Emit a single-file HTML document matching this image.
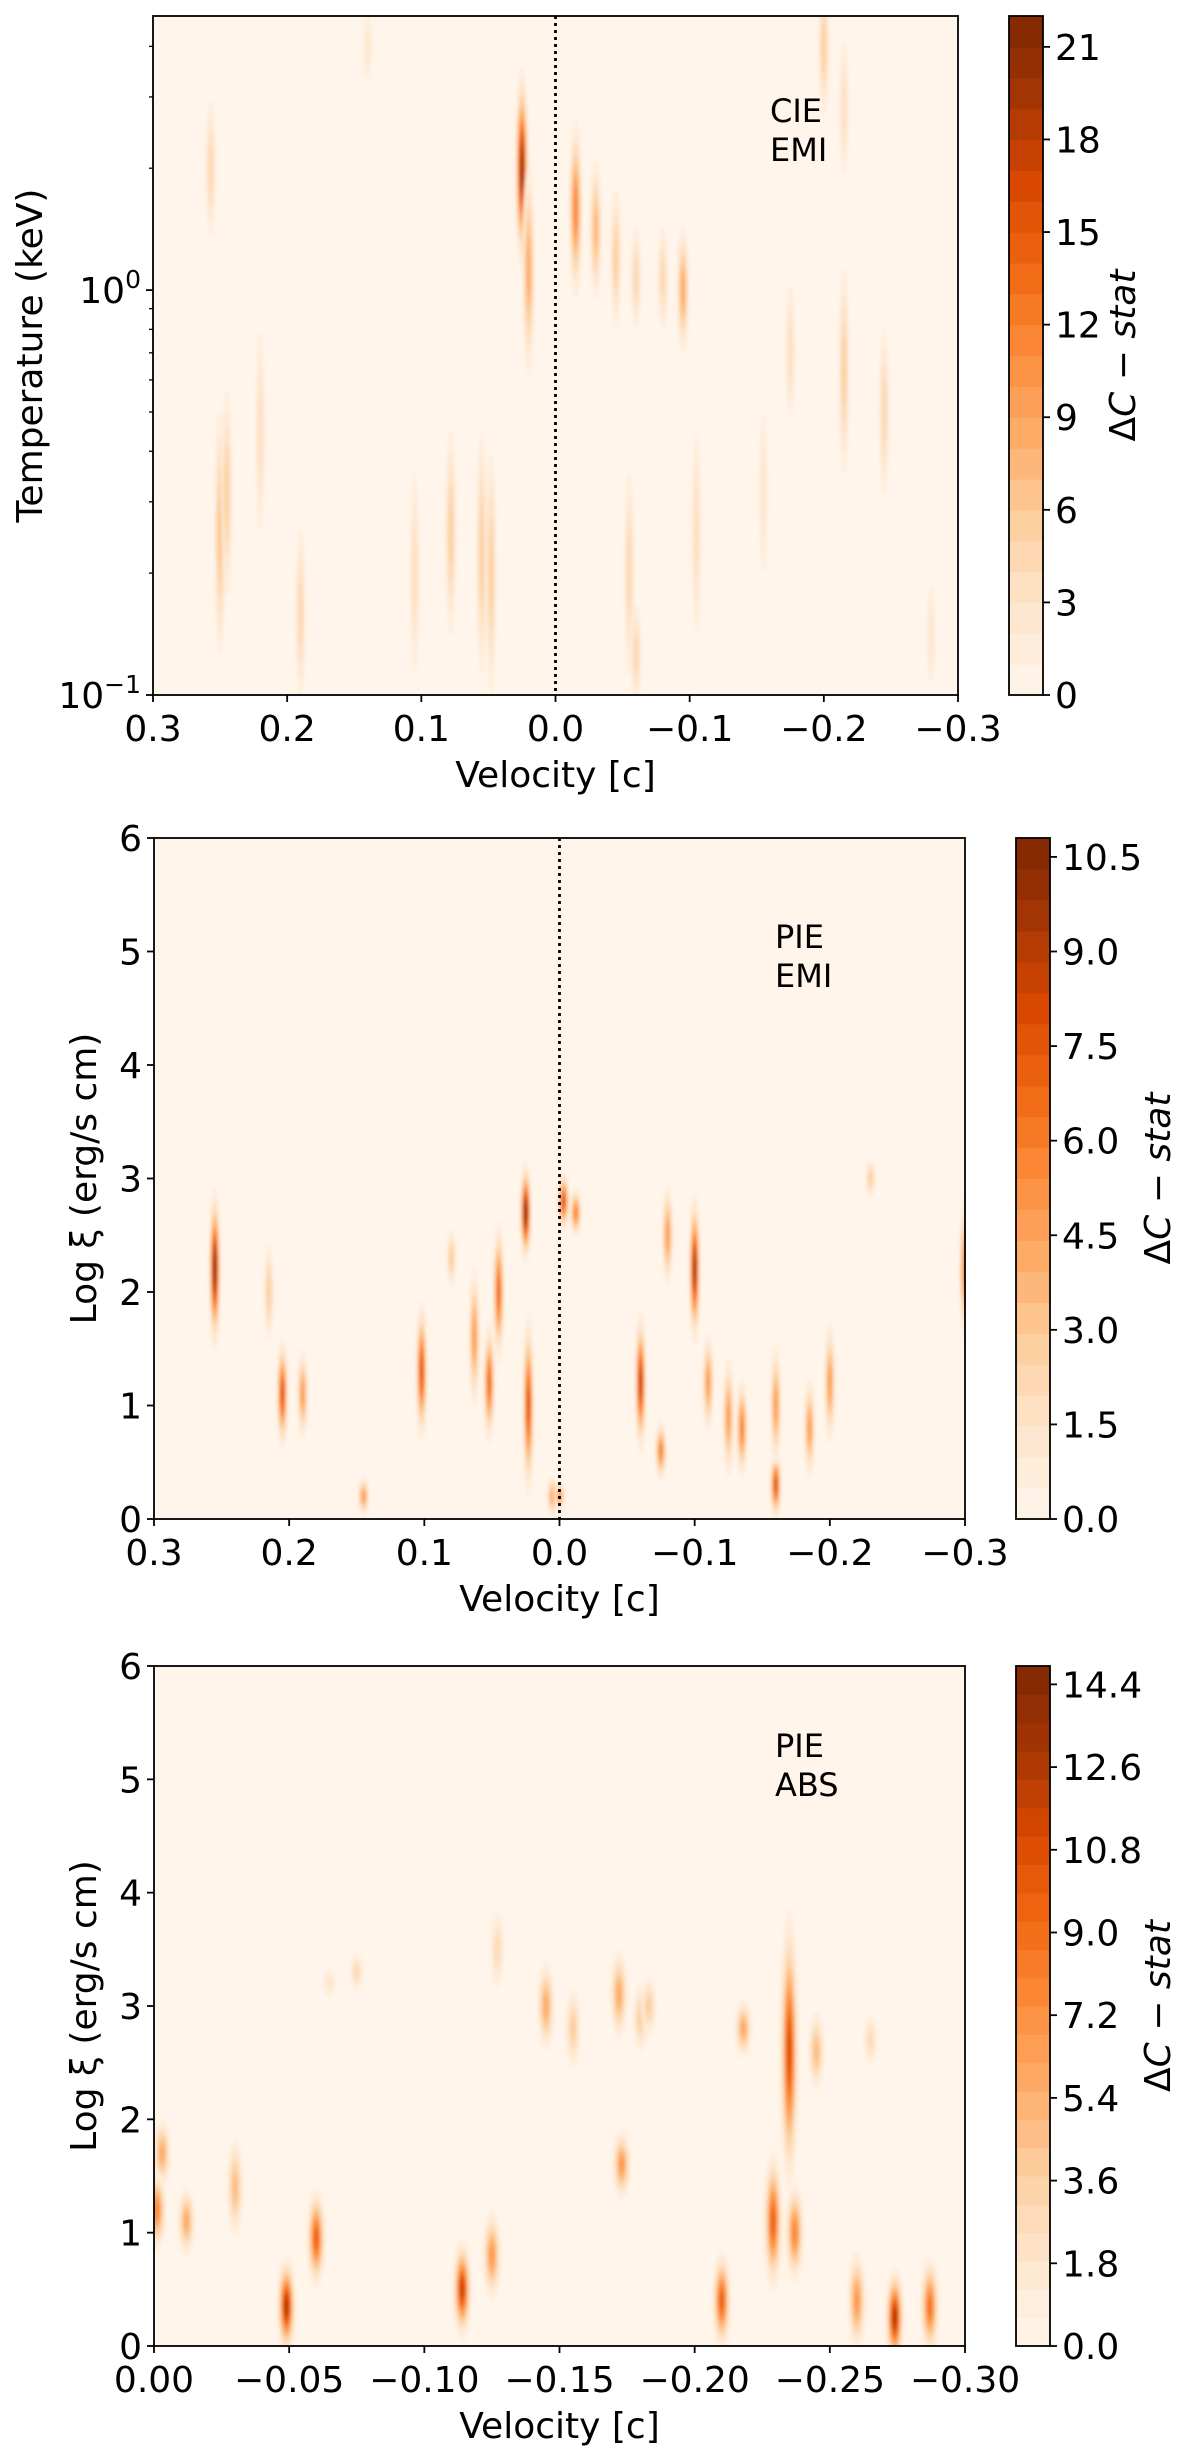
<!DOCTYPE html>
<html><head><meta charset="utf-8"><style>
html,body{margin:0;padding:0;background:#fff;}
svg{display:block;font-family:"DejaVu Sans","Liberation Sans",sans-serif;}
</style></head><body>
<svg id="fig" width="1200" height="2451" viewBox="0 0 1200 2451" xmlns="http://www.w3.org/2000/svg">
<defs><filter id="soft" x="-50%" y="-10%" width="200%" height="120%"><feGaussianBlur stdDeviation="1.6"/></filter></defs>
</svg>
<script>
// ---------- Panel 1 (CIE EMI): velocity, log10 T, half-height (dex), peak ΔC ----------
const p1V = [0.025,0.02,-0.015,-0.03,-0.045,-0.06,-0.08,-0.095,0.257,-0.2,-0.215,0.25,0.245,0.22,0.19,0.105,0.078,0.055,0.048,-0.055,-0.06,-0.105,-0.155,-0.175,-0.215,-0.245,-0.28,0.14];
const p1Y = [0.3,0.05,0.2,0.15,0.08,0.03,0.03,0.0,0.3,0.6,0.45,-0.6,-0.5,-0.35,-0.8,-0.7,-0.6,-0.65,-0.7,-0.7,-0.9,-0.6,-0.5,-0.15,-0.2,-0.3,-0.85,0.6];
const p1H = [0.28,0.3,0.25,0.2,0.2,0.15,0.15,0.18,0.2,0.2,0.2,0.35,0.3,0.3,0.25,0.3,0.3,0.35,0.35,0.3,0.15,0.3,0.25,0.2,0.3,0.25,0.15,0.1];
const p1I = [21,9,12,8,6,5,5,9,5,6,4,7,6,4,5,4,6,6,6,5,5,4,3,4,6,5,3,3];
// ---------- Panel 2 (PIE EMI) ----------
const p2V = [0.255,0.205,0.19,0.215,0.145,0.102,0.08,0.063,0.052,0.045,0.025,0.023,0.005,-0.003,-0.012,-0.06,-0.075,-0.08,-0.1,-0.11,-0.125,-0.135,-0.16,-0.16,-0.185,-0.2,-0.23,-0.3,0.0];
const p2Y = [2.2,1.1,1.1,2.0,0.2,1.3,2.3,1.6,1.2,2.0,2.7,1.0,0.2,2.8,2.7,1.2,0.6,2.5,2.2,1.2,0.9,0.8,0.3,1.0,0.8,1.2,3.0,2.2,0.2];
const p2H = [0.8,0.55,0.45,0.5,0.2,0.7,0.3,0.7,0.6,0.7,0.5,0.9,0.2,0.3,0.25,0.7,0.3,0.5,0.75,0.5,0.6,0.5,0.35,0.6,0.5,0.6,0.2,0.7,0.15];
const p2I = [11,8,5,3,5,8,3,5,7,7,11,8,5,8,6,9,6,5,10,5,5,6,8,5,5,5,3,6,5];
// ---------- Panel 3 (PIE ABS) ----------
const p3V = [-0.003,-0.001,-0.012,-0.03,-0.049,-0.06,-0.114,-0.125,-0.127,-0.145,-0.155,-0.172,-0.18,-0.173,-0.075,-0.065,-0.21,-0.218,-0.229,-0.235,-0.237,-0.245,-0.26,-0.265,-0.274,-0.287,-0.183];
const p3Y = [1.7,1.2,1.1,1.4,0.35,0.95,0.5,0.8,3.5,3.0,2.8,3.1,2.9,1.6,3.3,3.2,0.4,2.8,1.1,2.6,1.0,2.6,0.4,2.7,0.25,0.35,3.0];
const p3H = [0.35,0.4,0.35,0.5,0.5,0.5,0.5,0.45,0.4,0.45,0.4,0.45,0.35,0.35,0.2,0.15,0.5,0.3,0.7,1.4,0.5,0.4,0.5,0.25,0.5,0.5,0.3];
const p3I = [6,8,6,5,13,10,12,7,3,6,4,6,4,7,3,2,10,6,10,11,8,5,7,3,13,9,4];
// colorbar ticks
const cb1Ticks = [0,3,6,9,12,15,18,21];
const cb2Ticks = [0,1.5,3,4.5,6,7.5,9,10.5];
const cb3Ticks = [0,1.8,3.6,5.4,7.2,9.0,10.8,12.6,14.4];
const xTicksA = [0.3,0.2,0.1,0.0,-0.1,-0.2,-0.3];
const xTicksA_lab = ["0.3","0.2","0.1","0.0","\u22120.1","\u22120.2","\u22120.3"];
const xTicksB = [0,-0.05,-0.1,-0.15,-0.2,-0.25,-0.3];
const xTicksB_lab = ["0.00","\u22120.05","\u22120.10","\u22120.15","\u22120.20","\u22120.25","\u22120.30"];
const yTicksLin = [0,1,2,3,4,5,6];

const NS="http://www.w3.org/2000/svg";
const fig=document.getElementById('fig');
const FS=36;
function mk(tag,attrs,parent){const e=document.createElementNS(NS,tag);for(const k in attrs)e.setAttribute(k,attrs[k]);(parent||fig).appendChild(e);return e;}
const stops=[[0,[255,245,235]],[.125,[254,230,206]],[.25,[253,208,162]],[.375,[253,174,107]],[.5,[253,141,60]],[.625,[241,105,19]],[.75,[217,72,1]],[.875,[166,54,3]],[1,[127,39,4]]];
function cmap(t){t=Math.max(0,Math.min(1,t));for(let i=1;i<stops.length;i++){if(t<=stops[i][0]){const a=stops[i-1],b=stops[i];const f=(t-a[0])/(b[0]-a[0]);const c=a[1].map((v,j)=>Math.round(v+(b[1][j]-v)*f));return `rgb(${c[0]},${c[1]},${c[2]})`;}}return 'rgb(127,39,4)';}

function panel(o){
  const g=mk('g',{});
  
  
  const xs=v=>o.x0+(o.vmax-v)/(o.vmax-o.vmin)*(o.x1-o.x0);
  const ys=y=>o.y1-(y-o.ymin)/(o.ymax-o.ymin)*(o.y1-o.y0);
  const nb=o.nBands, step=o.cmax/nb;
  const clip=mk('clipPath',{id:o.name+'-clip'},g);
  mk('rect',{x:o.x0,y:o.y0,width:o.x1-o.x0,height:o.y1-o.y0},clip);
  const bg=mk('rect',{x:o.x0,y:o.y0,width:o.x1-o.x0,height:o.y1-o.y0,fill:cmap(0)},g);
  
  
  const outer=mk('g',{'clip-path':`url(#${o.name}-clip)`},g);
  const hm=mk('g',{filter:'url(#soft)'},outer);
  
  
  const hw=o.halfW;
  for(let i=0;i<o.V.length;i++){
    const I=o.I[i], cx=xs(o.V[i]), cy=ys(o.Y[i]);
    const ry=Math.abs(ys(o.Y[i]+o.H[i])-cy), rx=hw*(0.6+0.4*Math.min(1,I/o.cmax*2));
    const bl=mk('g',{},hm);
    
    
    const l0=step*0.5;
    for(let k=1;k*step<I;k++){
      const l=k*step;
      const s=Math.sqrt(Math.log(I/l)/Math.log(I/l0));
      mk('ellipse',{cx:cx,cy:cy,rx:(rx*s).toFixed(2),ry:(ry*s).toFixed(2),fill:cmap((l+step*0.5)/o.cmax)},bl);
    }
  }
  if(o.zeroLine){const zl=mk('line',{x1:xs(0),x2:xs(0),y1:o.y0,y2:o.y1,stroke:'#000','stroke-width':2.8,'stroke-dasharray':'3,4'},g);
    }
  const fr=mk('rect',{x:o.x0,y:o.y0,width:o.x1-o.x0,height:o.y1-o.y0,fill:'none',stroke:'#000','stroke-width':1.8},g);
  
  // x ticks
  const xa=mk('g',{},g);
  o.xt.forEach((v,i)=>{const x=xs(v);mk('line',{x1:x,x2:x,y1:o.y1,y2:o.y1+7,stroke:'#000','stroke-width':1.8},xa);
    const t=mk('text',{x:x,y:o.y1+46,'font-size':FS,'text-anchor':'middle'},xa);t.textContent=o.xl[i];
    });
  const xt=mk('text',{x:(o.x0+o.x1)/2,y:o.y1+92,'font-size':FS,'text-anchor':'middle'},g);xt.textContent='Velocity [c]';
  
  // y ticks
  const ya=mk('g',{},g);
  if(o.log){
    [-1,0].forEach(p=>{const y=ys(p);mk('line',{x1:o.x0-7,x2:o.x0,y1:y,y2:y,stroke:'#000','stroke-width':1.8},ya);
      const t=mk('text',{x:o.x0-12,y:y+13,'font-size':FS,'text-anchor':'end'},ya);
      
      t.innerHTML=`10<tspan dy="-15" font-size="25">${p<0?'\u22121':'0'}</tspan>`;});
    for(let d=-1;d<=0;d++)for(let m=2;m<=9;m++){const lv=d+Math.log10(m);if(lv>o.ymax)continue;const y=ys(lv);
      mk('line',{x1:o.x0-4,x2:o.x0,y1:y,y2:y,stroke:'#000','stroke-width':1.3},ya);}
  } else {
    o.yt.forEach(v=>{const y=ys(v);mk('line',{x1:o.x0-7,x2:o.x0,y1:y,y2:y,stroke:'#000','stroke-width':1.8},ya);
      const t=mk('text',{x:o.x0-12,y:y+13,'font-size':FS,'text-anchor':'end'},ya);t.textContent=v;
      });
  }
  const yt=mk('text',{x:o.ytx,y:(o.y0+o.y1)/2,'font-size':FS,'text-anchor':'middle',transform:`rotate(-90 ${o.ytx} ${(o.y0+o.y1)/2})`},g);
  yt.textContent=o.ytitle;
  // annotation
  const an=mk('text',{x:o.annX,y:o.annY,'font-size':32},g);
  an.innerHTML=`<tspan x="${o.annX}">${o.ann[0]}</tspan><tspan x="${o.annX}" dy="39">${o.ann[1]}</tspan>`;
  // colorbar
  const cb=mk('g',{},g);
  const cys=v=>o.y1-v/o.cmax*(o.y1-o.y0);
  for(let k=0;k<nb;k++){mk('rect',{x:o.cbx,y:cys((k+1)*step),width:o.cbw,height:cys(k*step)-cys((k+1)*step)+0.6,fill:cmap((k+0.5)/nb)},cb);}
  mk('rect',{x:o.cbx,y:o.y0,width:o.cbw,height:o.y1-o.y0,fill:'none',stroke:'#000','stroke-width':1.8},cb);
  o.ct.forEach(v=>{const y=cys(v);mk('line',{x1:o.cbx+o.cbw,x2:o.cbx+o.cbw+7,y1:y,y2:y,stroke:'#000','stroke-width':1.8},cb);
    const t=mk('text',{x:o.cbx+o.cbw+12,y:y+13,'font-size':FS},cb);t.textContent=o.cfmt(v);
    });
  const lx=o.cbx+o.cbw+o.clx, ly=(o.y0+o.y1)/2;
  const cl=mk('text',{x:lx,y:ly,'font-size':FS,'text-anchor':'middle',transform:`rotate(-90 ${lx} ${ly})`},cb);
  cl.innerHTML='\u0394<tspan font-style="italic">C</tspan> \u2212 <tspan font-style="italic">stat</tspan>';
  
}
panel({name:'panel-cie-emi',V:p1V,Y:p1Y,H:p1H,I:p1I,x0:153,x1:958,y0:16,y1:695,vmax:0.3,vmin:-0.3,ymin:-1,ymax:0.677,log:true,
  cmax:22,nBands:22,halfW:8,zeroLine:true,xt:xTicksA,xl:xTicksA_lab,ytx:42,ytitle:'Temperature (keV)',annX:770,annY:122,ann:['CIE','EMI'],
  cbx:1009,cbw:34,ct:cb1Ticks,cfmt:v=>String(v),clx:92});
panel({name:'panel-pie-emi',V:p2V,Y:p2Y,H:p2H,I:p2I,x0:154,x1:965,y0:838,y1:1519,vmax:0.3,vmin:-0.3,ymin:0,ymax:6,log:false,yt:yTicksLin,
  cmax:10.8,nBands:22,halfW:7,zeroLine:true,xt:xTicksA,xl:xTicksA_lab,ytx:96,ytitle:'Log \u03be (erg/s cm)',annX:775,annY:948,ann:['PIE','EMI'],
  cbx:1016,cbw:34,ct:cb2Ticks,cfmt:v=>v.toFixed(1),clx:120});
panel({name:'panel-pie-abs',V:p3V,Y:p3Y,H:p3H,I:p3I,x0:154,x1:965,y0:1666,y1:2346,vmax:0,vmin:-0.30,ymin:0,ymax:6,log:false,yt:yTicksLin,
  cmax:14.8,nBands:24,halfW:11,zeroLine:false,xt:xTicksB,xl:xTicksB_lab,ytx:96,ytitle:'Log \u03be (erg/s cm)',annX:775,annY:1757,ann:['PIE','ABS'],
  cbx:1016,cbw:34,ct:cb3Ticks,cfmt:v=>v.toFixed(1),clx:120});
</script>
</body></html>
